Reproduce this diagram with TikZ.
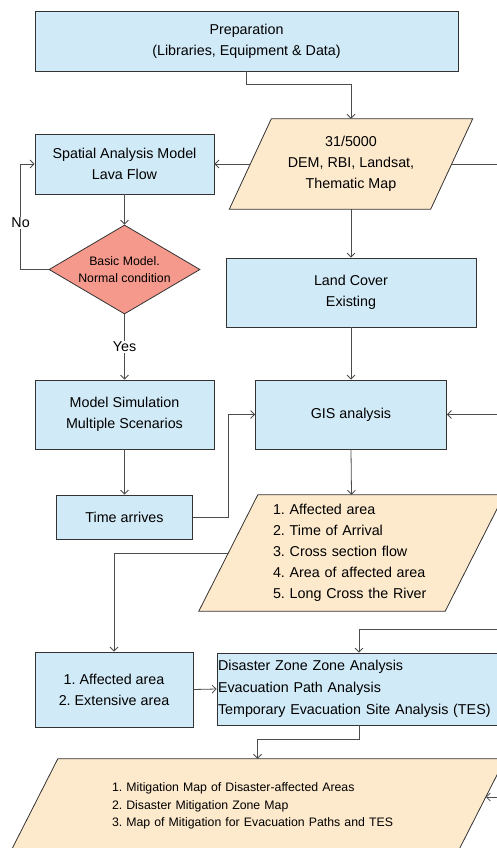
\documentclass[tikz,border=0pt]{standalone}
\usepackage{fontspec}
\setmainfont{Liberation Sans}
\usepackage{xcolor}
\usepackage{tikz}
\usetikzlibrary{shapes.geometric,arrows.meta,backgrounds}
\frenchspacing

\definecolor{boxblue}{RGB}{209,234,247}
\definecolor{datapeach}{RGB}{253,233,204}
\definecolor{decisionred}{RGB}{245,153,141}

% slanted outline behind a data node: #1 node, #2 half slant
\newcommand{\slantbox}[2]{%
    \draw[datafill] ([xshift=#2]#1.north west) -- ([xshift=#2]#1.north east)
        -- ([xshift=-#2]#1.south east) -- ([xshift=-#2]#1.south west) -- cycle;}

\begin{document}
\begin{tikzpicture}[x=1pt, y=-1pt]
    % Styles
    \tikzstyle{box} = [rectangle, draw=black!80, fill=boxblue, line width=0.8pt, align=center, inner sep=1pt, font=\fontsize{14.3}{21}\selectfont]
    \tikzstyle{datanode} = [rectangle, inner sep=0pt, align=left, font=\fontsize{14.3}{21}\selectfont]
    \tikzstyle{datafill} = [draw=black!80, fill=datapeach, line width=0.8pt]
    \tikzstyle{decision} = [diamond, draw=black!80, fill=decisionred, line width=0.8pt, aspect=1.7, inner sep=0pt, align=center, font=\fontsize{12.3}{17.7}\selectfont]
    \tikzstyle{arrow} = [draw=black!70, line width=0.8pt, ->, >={Straight Barb[length=4pt,width=8pt]}]
    \tikzstyle{branch} = [fill=white, inner sep=1pt, font=\fontsize{14.3}{17}\selectfont]

    \useasboundingbox (0,0) rectangle (496,848);

    % Nodes
    \node[box, minimum width=423pt, minimum height=60pt] (prep) at (246.5,41) {Preparation\\(Libraries, Equipment \& Data)};
    \node[datanode, minimum width=201pt, minimum height=90pt, align=center] (source) at (351,164) {31/5000\\DEM, RBI, Landsat,\\Thematic Map};
    \node[box, minimum width=179pt, minimum height=60pt] (spatial) at (124.5,164) {Spatial Analysis Model\\Lava Flow};
    \node[decision, minimum width=151pt, minimum height=89pt] (basic) at (124.5,269.5) {Basic Model.\\Normal condition};
    \node[box, minimum width=250pt, minimum height=69pt] (land) at (351,292.5) {Land Cover\\Existing};
    \node[box, minimum width=191pt, minimum height=69pt] (gis) at (351,414.5) {GIS analysis};
    \node[box, minimum width=179pt, minimum height=69pt] (model) at (124.5,414.5) {Model Simulation\\Multiple Scenarios};
    \node[box, minimum width=136pt, minimum height=44pt] (arrival) at (124.5,517) {Time arrives};
    \node[datanode, minimum width=246pt, minimum height=116pt, inner xsep=44.5pt, text width=157pt] (results) at (351.5,553)
        {1. Affected area\\2. Time of Arrival\\3. Cross section flow\\4. Area of affected area\\5. Long Cross the River};
    \node[box, minimum width=158pt, minimum height=75pt] (affected) at (114,689.5) {1. Affected area\\2. Extensive area};
    \node[box, minimum width=284pt, minimum height=72pt, align=left, text width=282pt, font=\fontsize{14.3}{22}\selectfont] (zones) at (359,689)
        {Disaster Zone Zone Analysis\\Evacuation Path Analysis\\Temporary Evacuation Site Analysis (TES)};
    \node[datanode, minimum width=447pt, minimum height=94pt, inner xsep=78pt, text width=291pt, font=\fontsize{12.3}{17.7}\selectfont] (maps) at (257.5,806)
        {1. Mitigation Map of Disaster-affected Areas\\2. Disaster Mitigation Zone Map\\3. Map of Mitigation for Evacuation Paths and TES};

    \begin{scope}[on background layer]
        \slantbox{source}{21pt}
        \slantbox{results}{29.5pt}
        \slantbox{maps}{24pt}
    \end{scope}

    \coordinate (rtop) at (510,164);
    \coordinate (rbot) at (510,629);
    \coordinate (rmid) at (510,797);

    % Arrows
    \draw[arrow] (prep.south) -- ++(0,13) -| (source.north);
    \draw[arrow] (source.west) -- (spatial.east);
    \draw[arrow] (source.east) -- (rtop) |- (gis.east);
    \draw[arrow] (source.south) -- (land.north);
    \draw[arrow] (land.south) -- (gis.north);
    \draw[arrow] (spatial.south) -- (basic.north);
    \draw[arrow] (basic.west) -- ++(-28,0) |- (spatial.west) node[branch, pos=0.22] {No};
    \draw[arrow] (basic.south) -- (model.north) node[branch, midway] {Yes};
    \draw[arrow] (model.south) -- (arrival.north);
    \draw[arrow] (arrival.east) -- ++(35,0) |- (gis.west);
    \draw[arrow] (gis.south) -- (results.north);
    \draw[arrow] (results.west) -| (affected.north);
    \draw[arrow] (affected.east) -- (zones.west);
    \draw[arrow] (rbot) -| (zones.north);
    \draw[arrow] (zones.south) -- ++(0,14) -| (maps.north);
    \draw[arrow] (rmid) -- ([shift={(4.6pt,9pt)}]maps.east);

\end{tikzpicture}
\end{document}
